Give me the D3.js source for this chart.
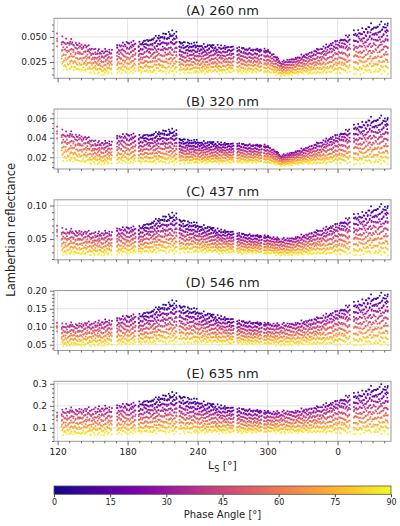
<!DOCTYPE html>
<html><head><meta charset="utf-8">
<script src="https://cdn.jsdelivr.net/npm/d3@7"></script>
<style>body{margin:0;background:#fff} svg{display:block} text{font-family:"DejaVu Sans",sans-serif;fill:#222}</style>
</head><body><svg id="c" width="400" height="526"></svg>
<script>
// ---------------- DATA ----------------
// Ls axis (values past 360 are the following year: 360 -> "0")
const xDomain = [116.9, 405.8];
const xTickValues = [120, 180, 240, 300, 360];
const xTickLabels = ["120", "180", "240", "300", "0"];
// observation periods (Ls start, Ls end)
const segments = [[119.5,119.5],[123.5,167.5],[171,187],[189.5,222],[224.5,271.5],[274,295],[297,371.5],[374,403]];
// knots along Ls where the envelopes were read
const lsKnots  = [119.5,125,135,145,155,162,167.5,171,179,187,189,197,205,213,222,224,235,248,260,271.5,274,285,295,297,303,308,312,320,328,342,356,372,373.5,384,395,403];
// smallest phase angle observed near each knot (deg)
const minPhase = [42,36,34,32,30,30,28,25,23,20,14,10,7,5,5,4,6,9,12,14,18,18,18,20,25,28,30,28,26,23,20,16,12,10,8,8];
// largest phase angle observed near each knot (deg)
const maxPhase = [58,90,90,90,90,90,90,90,90,90,90,90,90,90,90,90,90,90,90,90,90,90,90,90,90,90,90,90,90,90,90,90,90,90,90,90];
// per-panel reflectance at the smallest phase angle (top of cloud)
const topA = [0.052,0.046,0.043,0.040,0.035,0.035,0.037,0.040,0.043,0.044,0.042,0.046,0.049,0.052,0.053,0.044,0.042,0.041,0.040,0.039,0.038,0.037,0.037,0.037,0.034,0.029,0.024,0.027,0.030,0.036,0.043,0.050,0.053,0.057,0.061,0.060];
const topB = [0.050,0.044,0.042,0.039,0.034,0.034,0.036,0.040,0.042,0.042,0.040,0.042,0.044,0.046,0.046,0.038,0.036,0.035,0.034,0.033,0.033,0.032,0.032,0.032,0.029,0.025,0.021,0.024,0.027,0.033,0.040,0.047,0.050,0.055,0.059,0.057];
const topC = [0.068,0.061,0.060,0.059,0.057,0.058,0.060,0.063,0.065,0.066,0.065,0.071,0.077,0.082,0.085,0.077,0.072,0.067,0.062,0.059,0.057,0.055,0.054,0.054,0.052,0.050,0.048,0.050,0.053,0.060,0.068,0.079,0.082,0.088,0.096,0.094];
const topD = [0.108,0.102,0.104,0.107,0.109,0.112,0.115,0.119,0.125,0.129,0.127,0.137,0.148,0.158,0.165,0.155,0.145,0.134,0.125,0.117,0.113,0.110,0.109,0.108,0.106,0.104,0.103,0.106,0.110,0.120,0.135,0.154,0.159,0.171,0.182,0.180];
const topE = [0.165,0.175,0.177,0.180,0.183,0.185,0.187,0.193,0.200,0.205,0.205,0.217,0.229,0.241,0.248,0.238,0.222,0.207,0.195,0.185,0.181,0.177,0.175,0.172,0.168,0.166,0.166,0.170,0.176,0.188,0.209,0.238,0.243,0.262,0.279,0.275];
// per-panel reflectance at 90 deg phase angle (bottom of cloud)
const botA = [0.018,0.017,0.016,0.015,0.013,0.013,0.014,0.014,0.014,0.014,0.014,0.014,0.014,0.014,0.014,0.014,0.014,0.014,0.014,0.014,0.014,0.014,0.014,0.014,0.013,0.012,0.011,0.012,0.013,0.013,0.014,0.014,0.014,0.014,0.014,0.014];
const botB = [0.018,0.016,0.015,0.014,0.013,0.013,0.014,0.014,0.014,0.014,0.014,0.014,0.014,0.014,0.014,0.014,0.014,0.014,0.014,0.014,0.014,0.014,0.014,0.014,0.013,0.012,0.011,0.012,0.013,0.013,0.014,0.014,0.014,0.014,0.014,0.014];
const botC = [0.027,0.026,0.026,0.026,0.026,0.026,0.027,0.027,0.028,0.028,0.028,0.029,0.030,0.030,0.030,0.030,0.030,0.030,0.029,0.029,0.028,0.028,0.028,0.027,0.027,0.026,0.025,0.026,0.026,0.027,0.027,0.027,0.027,0.027,0.027,0.027];
const botD = [0.046,0.045,0.046,0.047,0.048,0.049,0.050,0.050,0.051,0.052,0.052,0.053,0.054,0.055,0.055,0.055,0.055,0.054,0.053,0.052,0.052,0.051,0.051,0.051,0.050,0.049,0.049,0.050,0.050,0.051,0.051,0.051,0.051,0.051,0.051,0.051];
const botE = [0.070,0.066,0.067,0.068,0.069,0.070,0.071,0.072,0.073,0.074,0.075,0.076,0.077,0.078,0.078,0.078,0.078,0.077,0.077,0.076,0.076,0.076,0.076,0.076,0.077,0.077,0.077,0.077,0.077,0.077,0.077,0.076,0.076,0.076,0.076,0.076];
// column-to-column raggedness seen in the cloud
const topRagged = [0,3,1,5,0,2,6,0,2,1,4,0,2,4,0,5,1];           // deg of phase
const rowShift  = [0.0,3.7,1.2,5.1,2.6,0.4,4.4,1.9,3.1,5.6,0.9]; // deg of phase
const colShift  = [0.0,0.55,-0.35,0.25,-0.6,0.4,-0.15];          // deg of Ls
const scatterFrac = [0.0,0.03,-0.025,0.045,-0.04,0.012,-0.015,0.035,-0.045,0.022,-0.03,0.04,-0.008]; // of cloud height
// panel titles and y ticks
const titles = ["(A) 260 nm","(B) 320 nm","(C) 437 nm","(D) 546 nm","(E) 635 nm"];
const yDomains = [[0.0087,0.0687],[0.008,0.0695],[0.0188,0.1086],[0.034,0.2006],[0.0386,0.3114]];
const yTicks = [[0.025,0.050],[0.02,0.04,0.06],[0.05,0.10],[0.05,0.10,0.15,0.20],[0.1,0.2,0.3]];
const yTickFormats = [".3f",".2f",".2f",".2f",".1f"];
const yMinorSteps = [0.00625,0.005,0.01,0.01,0.02];
const cbTicks = [0,15,30,45,60,75,90];
const tops = [topA,topB,topC,topD,topE];
const bots = [botA,botB,botC,botD,botE];

// ---------------- LAYOUT ----------------
const svg = d3.select("#c");
const plotLeft = 54, plotRight = 391, panelH = 60;
const panelTops = [18.3, 109, 199.8, 290.5, 381.3];
const colStep = 1.7, phStep = 6;
const x = d3.scaleLinear().domain(xDomain).range([plotLeft, plotRight]);
const color = d3.scaleSequential(d3.interpolatePlasma).domain([0, 90]);
const xMinor = d3.range(120, 406, 10);

function at(arr, ls) {
  if (ls <= lsKnots[0]) return arr[0];
  for (let k = 0; k < lsKnots.length - 1; k++) {
    if (ls <= lsKnots[k+1]) {
      const t = (ls - lsKnots[k]) / (lsKnots[k+1] - lsKnots[k]);
      return arr[k] + t * (arr[k+1] - arr[k]);
    }
  }
  return arr[arr.length - 1];
}

// observation columns (kept inside their observation period)
const columns = [];
segments.forEach(([a, b]) => {
  for (let ls = a; ls <= b + 1e-6; ls += colStep) columns.push({ls, a, b});
});

function buildPoints(pi) {
  const pts = [];
  let n = 0;
  columns.forEach(({ls, a, b}, j) => {
    const mp = at(minPhase, ls), xp = at(maxPhase, ls);
    const tp = at(tops[pi], ls), bt = at(bots[pi], ls);
    const span = tp - bt;
    const slope = span / (90 - mp);
    const mpc = mp - topRagged[j % topRagged.length];
    const st = rowShift[j % rowShift.length];
    const phases = [];
    for (let p = xp - st; p > mpc + 2; p -= phStep) phases.push(p);
    phases.push(mpc);
    phases.forEach((p, k) => {
      const lsp = Math.min(Math.max(ls + colShift[(j + k) % colShift.length], a), b);
      const r = bt + slope * (90 - p) + span * scatterFrac[n % scatterFrac.length];
      n++;
      pts.push({ls: lsp, ph: p, r});
    });
  });
  return pts;
}

const defs = svg.append("defs");

titles.forEach((title, i) => {
  const top = panelTops[i];
  const y = d3.scaleLinear().domain(yDomains[i]).range([top + panelH, top]);
  const g = svg.append("g");
  // grid
  g.selectAll(".gx").data(xTickValues).join("line")
    .attr("x1", d => x(d)).attr("x2", d => x(d)).attr("y1", top).attr("y2", top + panelH)
    .attr("stroke", "#dcdcdc").attr("stroke-width", 0.8);
  g.selectAll(".gy").data(yTicks[i]).join("line")
    .attr("x1", plotLeft).attr("x2", plotRight).attr("y1", d => y(d)).attr("y2", d => y(d))
    .attr("stroke", "#dcdcdc").attr("stroke-width", 0.8);
  // points
  defs.append("clipPath").attr("id", "clip" + i).append("rect")
    .attr("x", plotLeft).attr("y", top).attr("width", plotRight - plotLeft).attr("height", panelH);
  g.append("g").attr("clip-path", `url(#clip${i})`)
    .selectAll("rect").data(buildPoints(i)).join("rect")
    .attr("x", d => x(d.ls) - 0.85).attr("y", d => y(d.r) - 0.85)
    .attr("width", 1.7).attr("height", 1.7)
    .attr("fill", d => color(d.ph));
  // frame
  g.append("rect").attr("x", plotLeft).attr("y", top).attr("width", plotRight - plotLeft).attr("height", panelH)
    .attr("fill", "none").attr("stroke", "#9a9a9a").attr("stroke-width", 1);
  // x axis
  const xa = d3.axisBottom(x).tickValues(xTickValues).tickSize(4).tickPadding(3)
    .tickFormat((d, k) => i === 4 ? xTickLabels[k] : "");
  const gx = g.append("g").attr("transform", `translate(0,${top + panelH})`).call(xa);
  const gxm = g.append("g").attr("transform", `translate(0,${top + panelH})`)
    .call(d3.axisBottom(x).tickValues(xMinor.filter(v => !xTickValues.includes(v))).tickSize(2).tickFormat(""));
  // y axis
  const ya = d3.axisLeft(y).tickValues(yTicks[i]).tickSize(4).tickPadding(3).tickFormat(d3.format(yTickFormats[i]));
  const gy = g.append("g").attr("transform", `translate(${plotLeft},0)`).call(ya);
  const ms = yMinorSteps[i];
  const yMinor = d3.range(Math.ceil(yDomains[i][0] / ms) * ms, yDomains[i][1], ms)
    .filter(v => !yTicks[i].some(t => Math.abs(t - v) < 1e-9));
  const gym = g.append("g").attr("transform", `translate(${plotLeft},0)`)
    .call(d3.axisLeft(y).tickValues(yMinor).tickSize(2).tickFormat(""));
  [gx, gxm, gy, gym].forEach(a => {
    a.select(".domain").remove();
    a.selectAll("line").attr("stroke", "#444").attr("stroke-width", 0.8);
    a.selectAll("text").attr("font-size", 9).attr("fill", "#222").attr("font-family", "DejaVu Sans");
  });
  // title
  svg.append("text").attr("x", (plotLeft + plotRight) / 2).attr("y", top - 3.5)
    .attr("text-anchor", "middle").attr("font-size", 13).text(title);
});

// axis labels
const xl = svg.append("text").attr("x", (plotLeft + plotRight) / 2).attr("y", 469).attr("text-anchor", "middle").attr("font-size", 11);
xl.append("tspan").text("L");
xl.append("tspan").attr("font-size", 8).attr("dy", 2.5).text("S");
xl.append("tspan").attr("dy", -2.5).text(" [°]");
svg.append("text").attr("transform", `translate(15,${(panelTops[0] + panelTops[4] + panelH) / 2}) rotate(-90)`)
  .attr("text-anchor", "middle").attr("font-size", 11.5).text("Lambertian reflectance");

// colorbar
const cbX = d3.scaleLinear().domain([0, 90]).range([plotLeft, plotRight]);
const cbTop = 486, cbH = 8.3;
const grad = defs.append("linearGradient").attr("id", "cbgrad").attr("x1", "0%").attr("x2", "100%");
d3.range(0, 1.0001, 0.05).forEach(t => grad.append("stop").attr("offset", (t * 100) + "%").attr("stop-color", d3.interpolatePlasma(t)));
svg.append("rect").attr("x", cbX(0)).attr("y", cbTop).attr("width", cbX(90) - cbX(0)).attr("height", cbH)
  .attr("fill", "url(#cbgrad)").attr("stroke", "#555").attr("stroke-width", 0.8);
const cba = svg.append("g").attr("transform", `translate(0,${cbTop + cbH})`)
  .call(d3.axisBottom(cbX).tickValues(cbTicks).tickSize(3).tickPadding(2));
cba.select(".domain").remove();
cba.selectAll("line").attr("stroke", "#444");
cba.selectAll("text").attr("font-size", 8).attr("fill", "#222").attr("font-family", "DejaVu Sans");
svg.append("text").attr("x", (plotLeft + plotRight) / 2).attr("y", 518).attr("text-anchor", "middle").attr("font-size", 10).text("Phase Angle [°]");
</script></body></html>
